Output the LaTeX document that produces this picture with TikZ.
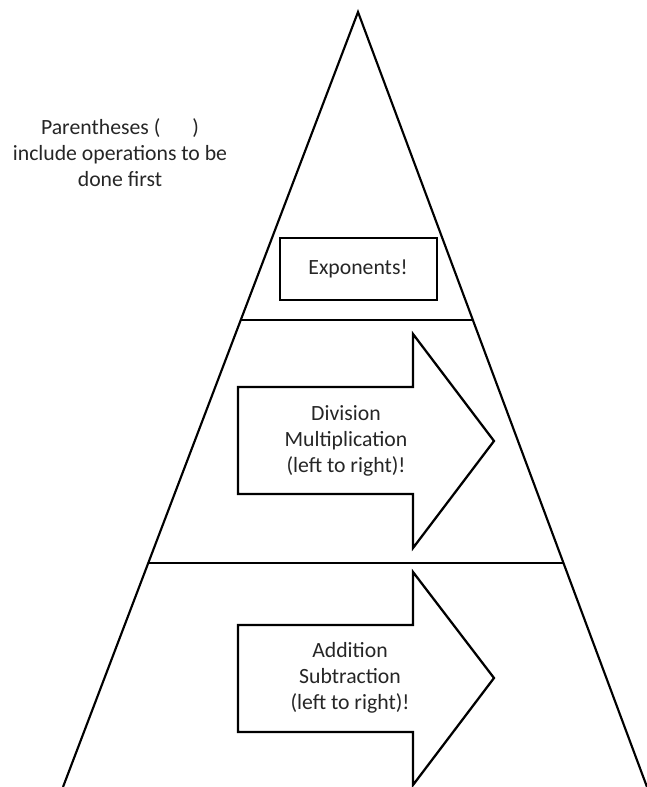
\documentclass[tikz,border=0pt]{standalone}
\usepackage{fontspec}
\setmainfont{Carlito}
\usetikzlibrary{calc}
\begin{document}
\begin{tikzpicture}[x=0.75pt,y=-0.75pt,
  edge/.style={line width=1.6pt,line join=miter},
  band/.style={line width=0.9pt},
  arrowshape/.style={line width=1.7pt,line join=miter,fill=white},
  lbl/.style={font=\fontsize{16.3}{19.5}\selectfont,align=center,text=black!85,inner sep=0pt}]
\useasboundingbox (0,0) rectangle (646,787);
% pyramid
\coordinate (apex) at (358,12);
\coordinate (bl) at (63,787);
\coordinate (br) at (647,787);
\draw[edge] (bl) -- (apex) -- (br);
\coordinate (l1) at ($(apex)!0.3974!(bl)$);
\coordinate (r1) at ($(apex)!0.3974!(br)$);
\coordinate (l2) at ($(apex)!0.711!(bl)$);
\coordinate (r2) at ($(apex)!0.711!(br)$);
\draw[band] (l1) -- (r1);
\draw[band] (l2) -- (r2);
% exponents
\draw[line width=2pt] (280,238) rectangle (437,300);
\node[lbl] (exp) at (358,269) {Exponents!};
% arrow 1
\draw[arrowshape] (238,387) -- (413,387) -- (413,334) -- (494,441) -- (413,548) -- (413,494) -- (238,494) -- cycle;
\node[lbl] (md) at (346,441) {Division\\Multiplication\\(left to right)!};
% arrow 2
\draw[arrowshape] (238,625) -- (413,625) -- (413,572) -- (494,678) -- (413,785) -- (413,732) -- (238,732) -- cycle;
\node[lbl] (as) at (350,678) {Addition\\Subtraction\\(left to right)!};
% parentheses
\node[lbl] (par) at (120,153) {Parentheses (\hspace{24pt})\\include operations to be\\done first};
\end{tikzpicture}
\end{document}
